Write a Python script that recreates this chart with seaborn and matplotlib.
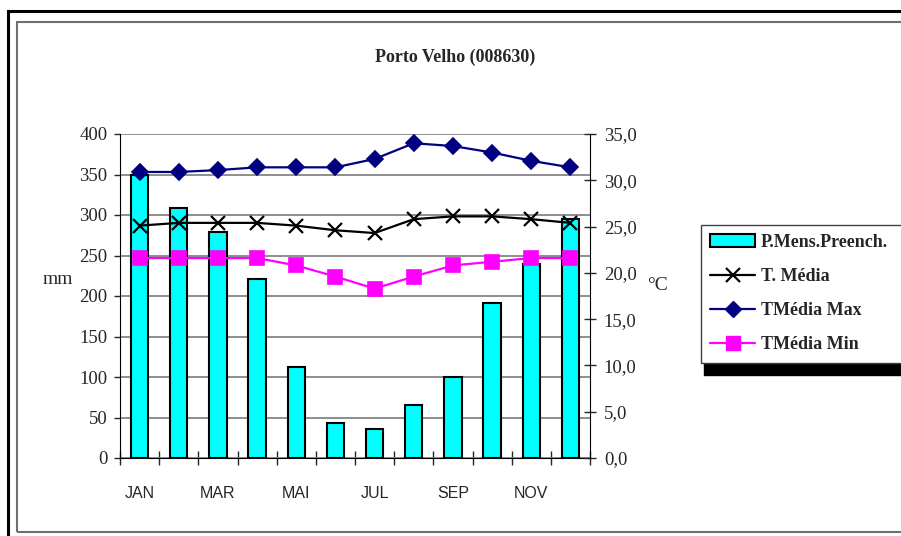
import numpy as np
import pandas as pd
import matplotlib.pyplot as plt
import seaborn as sns
from matplotlib.patches import Patch, Rectangle
from matplotlib.lines import Line2D
from matplotlib.ticker import MultipleLocator, FixedLocator, FuncFormatter

# Monthly climate data - Porto Velho (008630)
months = ['JAN', 'FEB', 'MAR', 'APR', 'MAI', 'JUN', 'JUL', 'AUG', 'SEP', 'OCT', 'NOV', 'DEC']
precip = [350, 309, 279, 221, 112, 43, 36, 65, 100, 191, 240, 295]
t_media = [25.1, 25.4, 25.4, 25.4, 25.1, 24.6, 24.3, 25.8, 26.1, 26.1, 25.8, 25.4]
t_max = [30.9, 30.9, 31.1, 31.4, 31.4, 31.4, 32.3, 34.0, 33.7, 33.0, 32.1, 31.4]
t_min = [21.6, 21.6, 21.6, 21.6, 20.8, 19.6, 18.3, 19.6, 20.8, 21.2, 21.6, 21.6]
series_names = ['P.Mens.Preench.', 'T. Média', 'TMédia Max', 'TMédia Min']

sns.set_style('white')
plt.rcParams['font.family'] = ['Liberation Serif', 'DejaVu Sans']

W, H = 901, 536
fig = plt.figure(figsize=(W / 100, H / 100), dpi=100)
ax = fig.add_axes([120 / W, 1 - 458 / H, 470 / W, 324 / H])

# Precipitation bars
df = pd.DataFrame({'mes': months, 'precip': precip})
sns.barplot(data=df, x='mes', y='precip', color='#00FFFF', saturation=1,
            edgecolor='black', linewidth=1.5, width=0.44, ax=ax)

# Temperature lines on the right axis
ax2 = ax.twinx()
sns.pointplot(x=months, y=t_media, ax=ax2, color='black', marker='x',
              markersize=10, markeredgewidth=1.6, linewidth=1.6, errorbar=None)
sns.pointplot(x=months, y=t_max, ax=ax2, color='#000080', marker='D',
              markersize=8, linewidth=1.6, errorbar=None)
sns.pointplot(x=months, y=t_min, ax=ax2, color='#FF00FF', marker='s',
              markersize=10, linewidth=1.6, errorbar=None)

# Left axis
ax.set_ylim(0, 400)
ax.yaxis.set_major_locator(MultipleLocator(50))
ax.set_axisbelow(True)
ax.yaxis.grid(True, color='#7a7a7a', lw=1.2)
ax.xaxis.grid(False)
ax.set_xlabel('')
ax.set_ylabel('')
ax.tick_params(axis='y', direction='out', length=4, width=1, pad=5,
               labelsize=13.5, left=True)
for s in ['top', 'right']:
    ax.spines[s].set_visible(False)
ax.spines['left'].set_color('black')
ax.spines['bottom'].set_color('black')

# Right axis
ax2.set_ylim(0, 35)
ax2.yaxis.set_major_locator(MultipleLocator(5))
ax2.yaxis.set_major_formatter(FuncFormatter(lambda v, p: f'{v:.1f}'.replace('.', ',')))
ax2.tick_params(axis='y', direction='inout', length=8, width=1, pad=6,
                labelsize=13.5, right=True)
ax2.set_ylabel('')
ax2.set_xlabel('')
for s in ['top', 'left', 'bottom']:
    ax2.spines[s].set_visible(False)
ax2.spines['right'].set_color('black')

# X axis: labels every other month, ticks between categories
ax.set_xlim(-0.5, len(months) - 0.5)
ax.xaxis.set_major_locator(FixedLocator(np.arange(0, len(months), 2)))
ax.set_xticklabels(months[::2], fontfamily='Liberation Sans', fontsize=11.5)
ax.xaxis.set_minor_locator(FixedLocator(np.arange(-0.5, len(months), 1)))
ax.tick_params(axis='x', which='major', length=0, pad=20)
ax.tick_params(axis='x', which='minor', direction='inout', length=10, width=1, bottom=True)

# Axis titles and chart title
fig.text(58 / W, 1 - 279 / H, 'mm', ha='center', va='center', fontsize=14)
fig.text(658 / W, 1 - 286 / H, '°C', ha='center', va='center', fontsize=14)
fig.text(455 / W, 1 - 57 / H, 'Porto Velho (008630)', ha='center', va='center',
         fontsize=13, fontweight='bold')

# Legend
handles = [
    Patch(facecolor='#00FFFF', edgecolor='black', linewidth=1.5),
    Line2D([], [], color='black', marker='x', markersize=10, markeredgewidth=1.6, lw=1.6),
    Line2D([], [], color='#000080', marker='D', markersize=8, lw=1.6),
    Line2D([], [], color='#FF00FF', marker='s', markersize=10, lw=1.6),
]
leg = fig.legend(handles, series_names, loc='upper left', mode='expand',
                 bbox_to_anchor=(701 / W, 0.0, 0.26, 1 - 225 / H),
                 bbox_transform=fig.transFigure, borderaxespad=0,
                 frameon=True, fancybox=False,
                 shadow={'color': 'black', 'alpha': 1, 'ox': 2, 'oy': -9},
                 handlelength=2.5, handletextpad=0.3, labelspacing=0.95,
                 borderpad=0.5, prop={'family': 'Liberation Serif', 'weight': 'bold', 'size': 13})
leg.get_frame().set_edgecolor('#404040')
leg.get_frame().set_linewidth(1)

# Outer frames
fig.add_artist(Rectangle((8 / W, -0.1), 1.2, 1 - 11 / H + 0.1, transform=fig.transFigure,
                         fill=False, edgecolor='black', lw=2.2))
fig.add_artist(Rectangle((17 / W, 4 / H), 1.2, 1 - 22 / H - 4 / H, transform=fig.transFigure,
                         fill=False, edgecolor='#707070', lw=1.5))

fig.savefig('out.png', dpi=100)
